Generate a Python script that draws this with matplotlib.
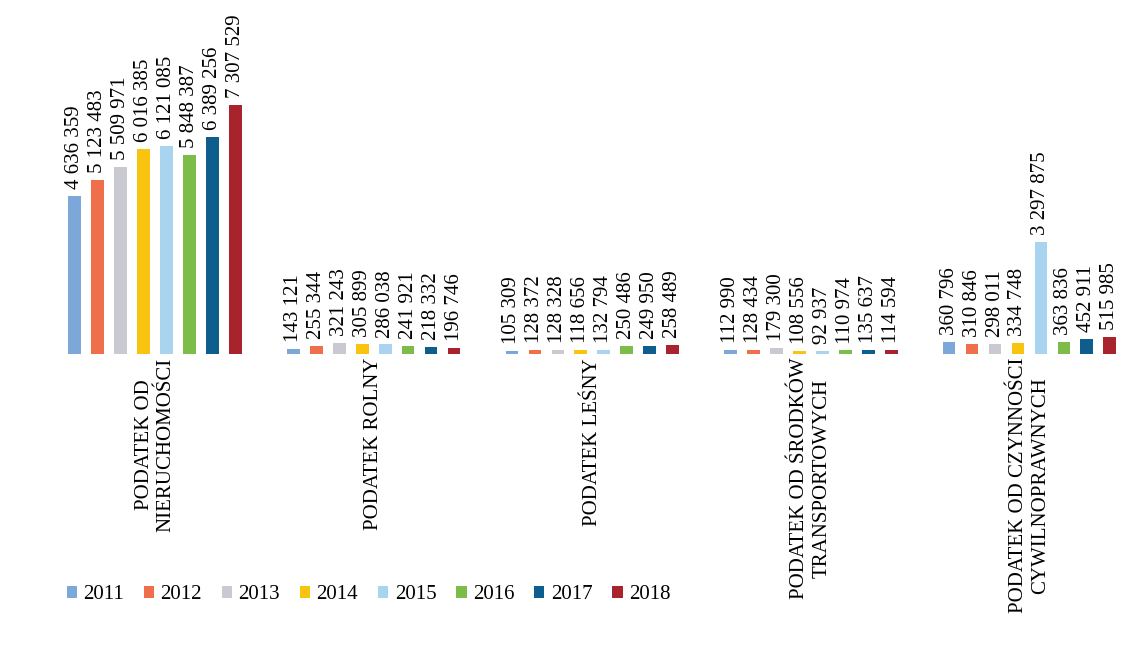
import matplotlib.pyplot as plt
import numpy as np

categories = ['PODATEK OD\nNIERUCHOMOŚCI', 'PODATEK ROLNY', 'PODATEK LEŚNY',
              'PODATEK OD ŚRODKÓW\nTRANSPORTOWYCH', 'PODATEK OD CZYNNOŚCI\nCYWILNOPRAWNYCH']
years = ['2011', '2012', '2013', '2014', '2015', '2016', '2017', '2018']
values = {
    '2011': [4636359, 143121, 105309, 112990, 360796],
    '2012': [5123483, 255344, 128372, 128434, 310846],
    '2013': [5509971, 321243, 128328, 179300, 298011],
    '2014': [6016385, 305899, 118656, 108556, 334748],
    '2015': [6121085, 286038, 132794, 92937, 3297875],
    '2016': [5848387, 241921, 250486, 110974, 363836],
    '2017': [6389256, 218332, 249950, 135637, 452911],
    '2018': [7307529, 196746, 258489, 114594, 515985],
}
colors = ['#7ba7d9', '#ee6f4a', '#c9c9d1', '#f8c40f', '#a9d4f0', '#7cbd4a', '#0d5e8c', '#a8232b']

serif = ['Liberation Serif', 'DejaVu Serif']
plt.rcParams['font.family'] = serif


def fmt(v):
    return f'{v:,}'.replace(',', ' ')


fig = plt.figure(figsize=(11.41, 6.56), dpi=100)
ax = fig.add_axes([0.021, 0.46, 0.977, 0.54])

x = np.arange(len(categories))
pitch = 0.105
width = 0.058
for i, year in enumerate(years):
    pos = x + (i - 3.5) * pitch
    bars = ax.bar(pos, values[year], width, color=colors[i], label=year)
    for b, v in zip(bars, values[year]):
        ax.annotate(fmt(v), (b.get_x() + b.get_width() / 2, v),
                    xytext=(0, 5), textcoords='offset points',
                    rotation=90, ha='center', va='bottom', fontsize=15)

for xi, cat in zip(x, categories):
    ax.text(xi, -0.01, cat, transform=ax.get_xaxis_transform(),
            rotation=90, ha='center', va='top', multialignment='center',
            fontsize=15)

ax.set_xlim(-0.6, 4.5)
ax.set_ylim(0, 10.4e6)
ax.axis('off')

fig.legend(loc='lower left', bbox_to_anchor=(0.042, 0.05), ncol=8, frameon=False,
           fontsize=15, handlelength=0.5, handleheight=0.5, handletextpad=0.3,
           columnspacing=0.95)

fig.savefig('out.png', dpi=100)
